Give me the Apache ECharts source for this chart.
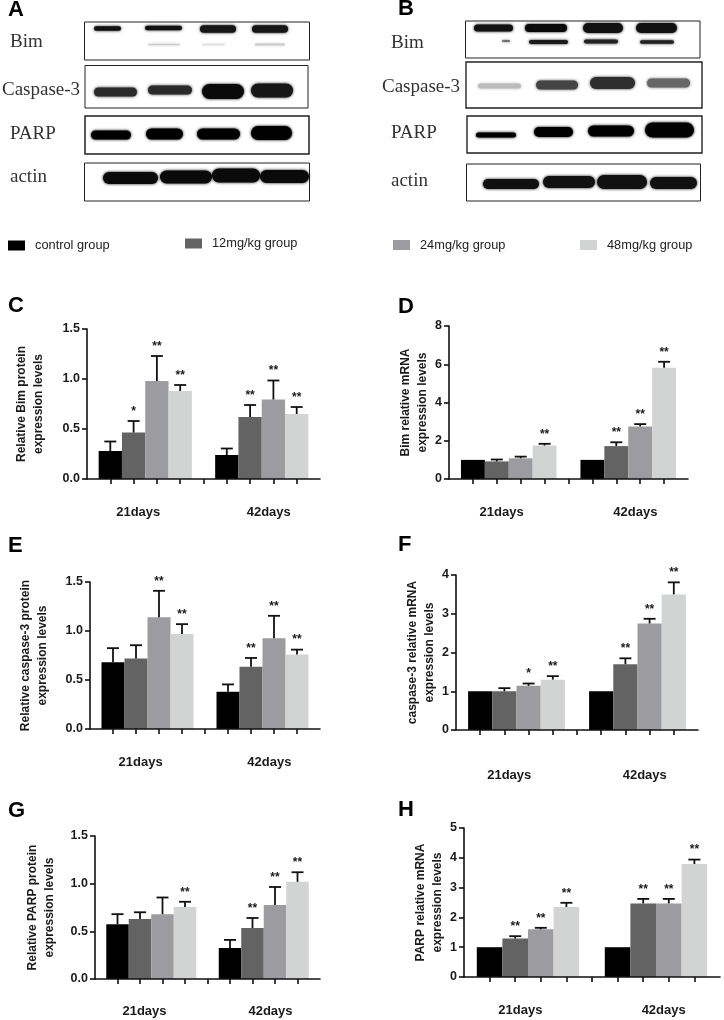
<!DOCTYPE html>
<html>
<head>
<meta charset="utf-8">
<style>html,body{margin:0;padding:0;background:#fff}#chart{width:724px;height:1020px}</style>
<script src="https://cdn.jsdelivr.net/npm/echarts@6/dist/echarts.min.js"></script>
</head>
<body>
<div id="chart"></div>
<script>
// ---------- categories and tick labels ----------
const doseGroups = ['control group', '12mg/kg group', '24mg/kg group', '48mg/kg group'];
const doseColors = ['#000000', '#636363', '#9b9ba0', '#d2d3d3'];
const slots = ['', 'a1', 'a2', 'a3', 'a4', 'gap', 'b1', 'b2', 'b3', 'b4', ' '];
const dayLabels = ['21days', '42days'];
const proteinTicks = ['0.0', '0.5', '1.0', '1.5'];
const bimMrnaTicks = ['0', '2', '4', '6', '8'];
const caspMrnaTicks = ['0', '1', '2', '3', '4'];
const parpMrnaTicks = ['0', '1', '2', '3', '4', '5'];

// ---------- values: 21 days (4 doses) then 42 days (4 doses) ----------
const cMeans = [0.28, 0.465, 0.98, 0.88, 0.24, 0.62, 0.795, 0.65];
const cTops  = [0.375, 0.58, 1.23, 0.94, 0.305, 0.74, 0.985, 0.72];
const cStars = ['', '*', '**', '**', '', '**', '**', '**'];

const dMeans = [1, 0.92, 1.08, 1.75, 1, 1.72, 2.75, 5.82];
const dTops  = [null, 1.02, 1.17, 1.84, null, 1.92, 2.87, 6.13];
const dStars = ['', '', '', '**', '', '**', '**', '**'];

const eMeans = [0.68, 0.72, 1.14, 0.97, 0.38, 0.635, 0.925, 0.76];
const eTops  = [0.825, 0.855, 1.41, 1.07, 0.455, 0.725, 1.155, 0.81];
const eStars = ['', '', '**', '**', '', '**', '**', '**'];

const fMeans = [1, 1, 1.14, 1.3, 1, 1.7, 2.75, 3.5];
const fTops  = [null, 1.08, 1.2, 1.39, null, 1.85, 2.87, 3.81];
const fStars = ['', '', '*', '**', '', '**', '**', '**'];

const gMeans = [0.575, 0.63, 0.68, 0.755, 0.325, 0.535, 0.775, 1.02];
const gTops  = [0.68, 0.7, 0.855, 0.81, 0.41, 0.64, 0.965, 1.12];
const gStars = ['', '', '', '**', '', '**', '**', '**'];

const hMeans = [1, 1.29, 1.6, 2.35, 1, 2.47, 2.47, 3.79];
const hTops  = [null, 1.37, 1.65, 2.49, null, 2.62, 2.62, 3.94];
const hStars = ['', '**', '**', '**', '', '**', '**', '**'];

// ---------- panel layout ----------
const panels = [
  {means:cMeans,tops:cTops,stars:cStars,ticks:proteinTicks,max:1.5,step:0.5,name:'Relative Bim protein\nexpression levels',
   x0:87,x1:320,y0:329,y1:479,gap:40,dayGap:27},
  {means:dMeans,tops:dTops,stars:dStars,ticks:bimMrnaTicks,max:8,step:2,name:'Bim relative mRNA\nexpression levels',
   x0:449,x1:688,y0:326,y1:479,gap:15,dayGap:27},
  {means:eMeans,tops:eTops,stars:eStars,ticks:proteinTicks,max:1.5,step:0.5,name:'Relative caspase-3 protein\nexpression levels',
   x0:90,x1:320,y0:582,y1:729,gap:39,dayGap:27},
  {means:fMeans,tops:fTops,stars:fStars,ticks:caspMrnaTicks,max:4,step:1,name:'caspase-3 relative mRNA\nexpression levels',
   x0:456,x1:698,y0:575,y1:730,gap:15,dayGap:39},
  {means:gMeans,tops:gTops,stars:gStars,ticks:proteinTicks,max:1.5,step:0.5,name:'Relative PARP protein\nexpression levels',
   x0:95,x1:320,y0:836,y1:979,gap:37,dayGap:26},
  {means:hMeans,tops:hTops,stars:hStars,ticks:parpMrnaTicks,max:5,step:1,name:'PARP relative mRNA\nexpression levels',
   x0:464,x1:720,y0:828,y1:977,gap:17,dayGap:27}
];
const slotIndex = [1, 2, 3, 4, 6, 7, 8, 9];
const axisFont = '"Liberation Sans", Arial, sans-serif';

// ---------- western-blot panels, drawn as artwork ----------
const blotFrames = [
  [84.5,22,309.5,60,1],[85,65.5,308,108,1],[85,116,309,154,1.5],[84.5,163,309.5,201,1],
  [465.5,21,700,58,1],[466,62,702,108,1.4],[467,116,702,153,1.4],[466.5,164,700.5,201,1]
];
const blotBands = [
  [94,121,28.5,4.5,'#111'],[145,182,28,4.5,'#111'],[200,236,29,7.5,'#161616'],[252,288,29,7.5,'#161616'],
  [148,180,44.5,1.5,'#ccc'],[202,225,44.5,1.5,'#ddd'],[255,285,44.5,2,'#ccc'],
  [94,137,92,9,'#2a2a2a'],[148,192,90,9,'#2a2a2a'],[202,244,91.5,15,'#0a0a0a'],[251,293,90.5,14,'#161616'],
  [91,131,135,9,'#000'],[146,183,134,11,'#000'],[197,240,134,11,'#000'],[251,292,133,14,'#000'],
  [103,158,178,12,'#0a0a0a'],[160,212,177,13,'#0a0a0a'],[212,260,175.5,14,'#0a0a0a'],[260,309,176.5,13,'#0a0a0a'],
  [474,513,28,7,'#111'],[525,567,28,8,'#0a0a0a'],[583,623,28,10,'#111'],[636,677,28,10,'#111'],
  [502,510,41,1.5,'#555'],[529,568,42,4,'#1a1a1a'],[584,618,41.5,4,'#222'],[640,674,42,3.5,'#222'],
  [478,521,86,5,'#bbb'],[536,578,85,9,'#444'],[590,635,83,12,'#2e2e2e'],[647,690,83,9,'#666'],
  [476,516,135,5,'#000'],[534,573,132,10,'#000'],[588,634,131,11,'#000'],[645,694,130,15,'#000'],
  [483,539,184,10,'#111'],[543,595,182,12,'#111'],[597,647,182,14,'#111'],[650,697,183,12,'#111']
];
const blotLabels = [
  ['Bim',10,42.5],['Caspase-3',2,90],['PARP',10,134],['actin',10,177],
  ['Bim',391,43.5],['Caspase-3',382,87],['PARP',391,133],['actin',391,181]
];
const panelLetters = [
  ['A',8,10],['B',398,9],['C',8,306],['D',398,307],['E',8,546],['F',398,545],['G',8,811],['H',398,810]
];
const legendSpots = [[8,239],[185,237],[393,238.5],[580,238.5]];

// ---------- option assembly ----------
const grid = [], xAxis = [], yAxis = [], series = [];
panels.forEach((p, i) => {
  grid.push({left:p.x0, top:p.y0, width:p.x1-p.x0, height:p.y1-p.y0, containLabel:false});
  xAxis.push({
    type:'category', gridIndex:i, data:slots, boundaryGap:false, z:5,
    axisLine:{show:true,onZero:false,lineStyle:{color:'#111',width:1.6}},
    axisTick:{show:true,length:5,interval:(idx)=>idx>0&&idx<10,lineStyle:{color:'#111',width:1.6}},
    axisLabel:{show:false}, splitLine:{show:false}
  });
  xAxis.push({
    type:'value', gridIndex:i, min:0, max:10, position:'bottom',
    axisLine:{show:false}, axisTick:{show:false}, splitLine:{show:false},
    axisLabel:{show:true, customValues:[2.2,7.8], margin:p.dayGap, color:'#1a1a1a',
      fontFamily:axisFont, fontWeight:'bold', fontSize:13,
      formatter:(v)=>v<5?dayLabels[0]:dayLabels[1]}
  });
  yAxis.push({
    type:'value', gridIndex:i, min:0, max:p.max, interval:p.step, z:5,
    name:p.name, nameLocation:'middle', nameGap:p.gap, nameRotate:90,
    nameTextStyle:{color:'#1a1a1a',fontFamily:axisFont,fontWeight:'bold',fontSize:12,lineHeight:17},
    axisLine:{show:true,lineStyle:{color:'#111',width:1.6}},
    axisTick:{show:true,length:5,lineStyle:{color:'#111',width:1.6}},
    splitLine:{show:false},
    axisLabel:{margin:7,color:'#1a1a1a',fontFamily:axisFont,fontWeight:'bold',fontSize:12.5,
      formatter:(v)=>p.ticks[Math.round(v/p.step)]}
  });
  doseGroups.forEach((g, d) => {
    const vals = slots.map(()=>null);
    vals[slotIndex[d]] = p.means[d];
    vals[slotIndex[d+4]] = p.means[d+4];
    series.push({type:'bar', name:g, xAxisIndex:2*i, yAxisIndex:i, data:vals,
      barWidth:'100%', barGap:'-100%', itemStyle:{color:doseColors[d]}, silent:true, animation:false, z:2});
  });
  const errData = p.means.map((m,k)=>[slotIndex[k], m, p.tops[k], p.stars[k]]);
  series.push({
    type:'custom', xAxisIndex:2*i, yAxisIndex:i, data:errData, silent:true, animation:false, clip:false, z:3,
    encode:{x:0,y:2},
    renderItem:(params, api)=>{
      const k = params.dataIndex, row = errData[k];
      const children = [];
      const lineStyle = {stroke:'#111', lineWidth:1.8, fill:null};
      const anchor = api.coord([row[0], row[1]]);
      let topY = anchor[1];
      if (row[2] != null) {
        const top = api.coord([row[0], row[2]]);
        topY = top[1];
        children.push({type:'line',shape:{x1:anchor[0],y1:anchor[1],x2:top[0],y2:top[1]},style:lineStyle});
        children.push({type:'line',shape:{x1:top[0]-6,y1:top[1],x2:top[0]+6,y2:top[1]},style:lineStyle});
      }
      if (row[3]) {
        children.push({type:'text',style:{text:row[3],x:anchor[0],y:topY-9.5,align:'center',verticalAlign:'middle',
          font:'bold 12px '+axisFont,fill:'#1a1a1a'}});
      }
      return {type:'group',children};
    }
  });
});

const legend = doseGroups.map((g, d) => ({
  data:[g], left:legendSpots[d][0], top:legendSpots[d][1], orient:'horizontal', icon:'rect', padding:0,
  itemWidth:17, itemHeight:10, selectedMode:false,
  textStyle:{color:'#222',fontFamily:axisFont,fontSize:12.8,padding:[0,0,0,5]}
}));

const graphic = [];
blotFrames.forEach(f=>graphic.push({type:'rect',silent:true,
  shape:{x:f[0],y:f[1],width:f[2]-f[0],height:f[3]-f[1]},
  style:{fill:'#fff',stroke:'#222',lineWidth:f[4]}}));
blotBands.forEach(b=>graphic.push({type:'rect',silent:true,
  shape:{x:b[0],y:b[2]-b[3]/2,width:b[1]-b[0],height:b[3],r:b[3]/2},
  style:{fill:b[4],shadowBlur:3,shadowColor:b[4]}}));
blotLabels.forEach(t=>graphic.push({type:'text',silent:true,
  style:{text:t[0],x:t[1],y:t[2],verticalAlign:'middle',font:'19px "Liberation Serif", serif',fill:'#333'}}));
panelLetters.forEach(t=>graphic.push({type:'text',silent:true,
  style:{text:t[0],x:t[1],y:t[2],verticalAlign:'middle',font:'bold 22px '+axisFont,fill:'#000'}}));

const chart = echarts.init(document.getElementById('chart'), null, {renderer:'canvas'});
chart.setOption({animation:false, backgroundColor:'#fff', tooltip:{show:false}, grid, xAxis, yAxis, series, legend, graphic});
</script>
</body>
</html>
